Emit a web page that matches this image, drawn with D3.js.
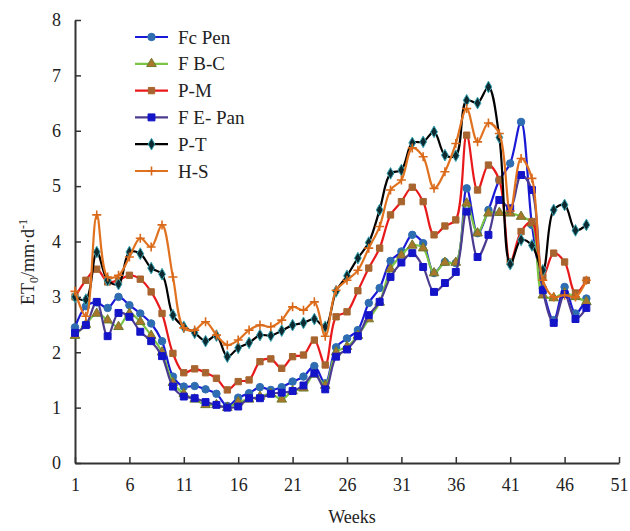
<!DOCTYPE html>
<html>
<head>
<meta charset="utf-8">
<script src="https://cdn.jsdelivr.net/npm/d3@7"></script>
<style>
  body { margin: 0; background: #fff; }
  svg text { font-family: "Liberation Serif", "Times New Roman", serif; fill: #222; }
</style>
</head>
<body>
<svg id="chart" width="630" height="531"></svg>
<script>
const FONT = '"Liberation Serif", "Times New Roman", serif';

// weeks 1..48
const weeks = d3.range(1, 49);
const xTicks = [1, 6, 11, 16, 21, 26, 31, 36, 41, 46, 51];
const yTicks = [0, 1, 2, 3, 4, 5, 6, 7, 8];

const fcPen  = [2.45, 2.83, 2.9, 2.8, 3.0, 2.85, 2.7, 2.52, 2.2, 1.56, 1.38, 1.39, 1.33, 1.25, 1.03, 1.18,
                1.26, 1.37, 1.32, 1.37, 1.47, 1.56, 1.75, 1.44, 2.09, 2.25, 2.4, 2.89, 3.16, 3.65, 3.82, 4.12,
                3.97, 3.43, 3.63, 3.61, 4.96, 4.15, 4.57, 5.11, 5.41, 6.16, 4.3, 3.15, 2.58, 3.18, 2.7, 2.97];
const fBC    = [2.3, 2.5, 2.7, 2.58, 2.46, 2.7, 2.55, 2.3, 2.0, 1.45, 1.25, 1.15, 1.05, 1.05, 1.0, 1.1,
                1.15, 1.2, 1.25, 1.15, 1.3, 1.35, 1.6, 1.4, 2.0, 2.1, 2.3, 2.6, 2.9, 3.5, 3.75, 3.93,
                3.88, 3.43, 3.62, 3.62, 4.69, 4.15, 4.51, 4.52, 4.51, 4.45, 4.33, 3.03, 2.98, 3.07, 3.0, 2.91];
const pM     = [3.0, 3.3, 3.5, 3.27, 3.3, 3.39, 3.32, 3.09, 2.7, 1.98, 1.63, 1.7, 1.63, 1.53, 1.32, 1.47,
                1.5, 1.83, 1.88, 1.71, 1.92, 1.95, 2.22, 1.77, 2.64, 2.73, 3.11, 3.52, 3.88, 4.48, 4.72, 4.98,
                4.72, 4.12, 4.28, 4.39, 5.92, 4.93, 5.38, 5.11, 3.63, 4.18, 4.36, 3.36, 3.79, 3.63, 3.07, 3.3];
const fEPan  = [2.35, 2.49, 2.91, 2.29, 2.71, 2.64, 2.37, 2.2, 1.93, 1.38, 1.2, 1.17, 1.1, 1.05, 1.0, 1.02,
                1.17, 1.17, 1.25, 1.27, 1.3, 1.4, 1.62, 1.33, 1.92, 2.05, 2.29, 2.67, 2.91, 3.36, 3.62, 3.79,
                3.54, 3.09, 3.25, 3.45, 4.54, 3.72, 4.12, 4.75, 4.6, 5.2, 4.93, 3.12, 2.53, 3.05, 2.6, 2.8];
const pT     = [3.0, 2.95, 3.81, 3.3, 3.23, 3.81, 3.78, 3.52, 3.41, 2.67, 2.46, 2.35, 2.2, 2.3, 1.92, 2.08,
                2.17, 2.31, 2.3, 2.39, 2.49, 2.53, 2.6, 2.46, 3.1, 3.38, 3.7, 3.98, 4.57, 5.23, 5.29, 5.78,
                5.8, 5.98, 5.56, 5.55, 6.55, 6.5, 6.79, 5.88, 3.59, 4.03, 3.93, 3.48, 4.57, 4.66, 4.2, 4.3];
const hS     = [3.1, 2.65, 4.48, 3.36, 3.39, 3.72, 4.06, 3.9, 4.3, 3.36, 2.44, 2.4, 2.55, 2.31, 2.13, 2.22,
                2.4, 2.49, 2.46, 2.58, 2.82, 2.76, 2.91, 2.29, 3.12, 3.3, 3.48, 3.88, 4.27, 4.93, 5.11, 5.69,
                5.53, 4.96, 5.26, 5.77, 6.4, 5.8, 6.14, 5.95, 4.55, 5.5, 5.14, 3.3, 3.0, 3.03, 3.0, 3.3];

const seriesNames = ['Fc Pen', 'F B-C', 'P-M', 'F E- Pan', 'P-T', 'H-S'];

const series = [
  { name: seriesNames[0], values: fcPen, line: '#1a1ad6', sym: d3.symbolCircle,   size: 44, fill: '#2f6db3', stroke: '#2f6db3' },
  { name: seriesNames[1], values: fBC,   line: '#7cc443', sym: d3.symbolTriangle, size: 40, fill: '#a8772b', stroke: '#6f7a2a' },
  { name: seriesNames[2], values: pM,    line: '#e8191b', sym: d3.symbolSquare,   size: 40, fill: '#a8642e', stroke: '#a8642e' },
  { name: seriesNames[3], values: fEPan, line: '#4c3c90', sym: d3.symbolSquare,   size: 48, fill: '#1414c8', stroke: '#1414c8' },
  { name: seriesNames[4], values: pT,    line: '#000000', sym: d3.symbolDiamond,  size: 40, fill: '#0c2a30', stroke: '#3aa7b5' },
  { name: seriesNames[5], values: hS,    line: '#e0711f', sym: 'plus',            size: 9,  fill: 'none',    stroke: '#d9691a' }
];

const svg = d3.select('#chart');

const x = d3.scaleLinear().domain([1, 51]).range([75, 619]);
const y = d3.scaleLinear().domain([0, 8]).range([463, 20]);

// axes, ticks point inwards
const xAxis = d3.axisBottom(x).tickValues(xTicks).tickSizeInner(-6).tickSizeOuter(0).tickPadding(14);
const yAxis = d3.axisLeft(y).tickValues(yTicks).tickSizeInner(-6).tickSizeOuter(0).tickPadding(14);

const gx = svg.append('g').attr('transform', 'translate(0,463)').call(xAxis);
const gy = svg.append('g').attr('transform', 'translate(75,0)').call(yAxis);
[gx, gy].forEach(g => {
  g.attr('font-family', FONT);
  g.select('.domain').attr('stroke', '#333').attr('stroke-width', 2);
  g.selectAll('.tick line').attr('stroke', '#333').attr('stroke-width', 1.5);
  g.selectAll('.tick text').attr('font-size', 18).attr('font-family', FONT).attr('fill', '#222');
});
gx.selectAll('.tick text').attr('dy', '0.75em');

// axis titles
svg.append('text')
  .attr('x', 352).attr('y', 523)
  .attr('text-anchor', 'middle')
  .attr('font-family', FONT)
  .attr('font-size', 18)
  .text('Weeks');

const yl = svg.append('text')
  .attr('transform', 'translate(34,262) rotate(-90)')
  .attr('text-anchor', 'middle')
  .attr('font-family', FONT)
  .attr('font-size', 18);
yl.append('tspan').text('ET');
yl.append('tspan').attr('font-size', 12).attr('dy', 4).text('0');
yl.append('tspan').attr('dy', -4).text('/mm·d');
yl.append('tspan').attr('font-size', 12).attr('dy', -7).text('-1');

const line = d3.line()
  .x((d, i) => x(weeks[i]))
  .y(d => y(d))
  .curve(d3.curveCatmullRom.alpha(0.5));

function drawMarker(g, s, cx, cy) {
  if (s.sym === 'plus') {
    const h = s.size / 2;
    g.append('path')
      .attr('d', `M${cx - h},${cy}H${cx + h}M${cx},${cy - h}V${cy + h}`)
      .attr('stroke', s.stroke).attr('stroke-width', 1.6).attr('fill', 'none');
  } else {
    g.append('path')
      .attr('d', d3.symbol().type(s.sym).size(s.size)())
      .attr('transform', `translate(${cx},${cy})`)
      .attr('fill', s.fill).attr('stroke', s.stroke).attr('stroke-width', 1);
  }
}

series.forEach(s => {
  const g = svg.append('g');
  g.append('path')
    .datum(s.values)
    .attr('d', line)
    .attr('fill', 'none')
    .attr('stroke', s.line)
    .attr('stroke-width', 2.2);
  s.values.forEach((v, i) => drawMarker(g, s, x(weeks[i]), y(v)));
});

// legend
const legend = svg.append('g');
series.forEach((s, i) => {
  const ly = 37 + i * 26.8;
  legend.append('line')
    .attr('x1', 135).attr('x2', 168).attr('y1', ly).attr('y2', ly)
    .attr('stroke', s.line).attr('stroke-width', 2.2);
  drawMarker(legend, s, 151.5, ly);
  legend.append('text')
    .attr('x', 178).attr('y', ly).attr('dy', '0.35em')
    .attr('font-family', FONT)
    .attr('font-size', 19)
    .text(s.name);
});
</script>
</body>
</html>
